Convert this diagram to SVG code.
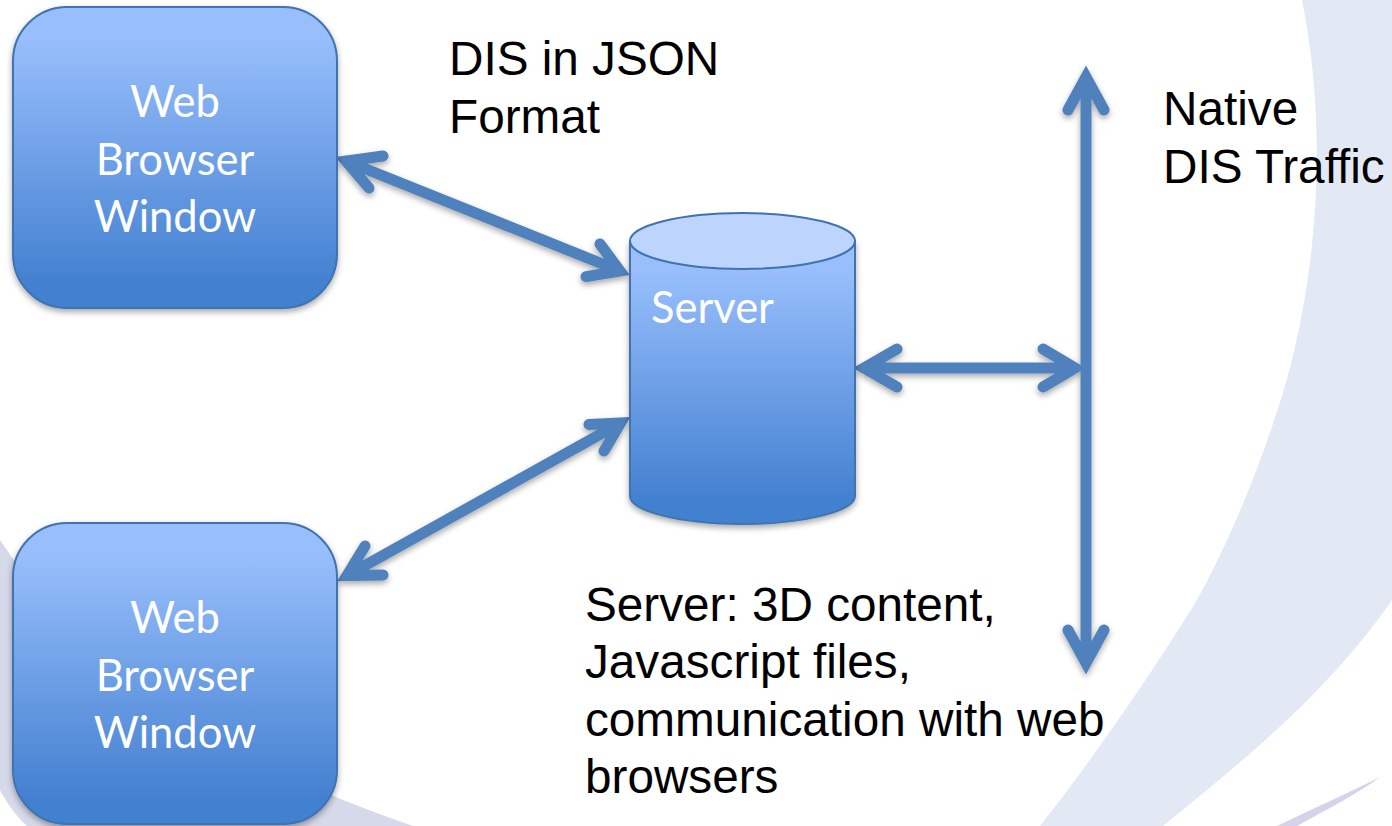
<svg xmlns="http://www.w3.org/2000/svg" width="1392" height="826" viewBox="0 0 1392 826">
<style>
.b{font-family:"Liberation Sans",Arial,sans-serif;font-size:47.7px;fill:#000}
.w{font-family:Lato,"Open Sans",sans-serif;font-size:43.500px;fill:#fff;text-anchor:middle}
.c{fill:none;stroke:#4f81bd;stroke-width:11;stroke-linecap:round;stroke-linejoin:miter}
.s{stroke:#3f73b0;stroke-width:2}
</style>
<defs>
<linearGradient id="g" x1="0" y1="0" x2="0" y2="1"><stop offset="0.1" stop-color="#98bffc"/><stop offset="0.92" stop-color="#4380d0"/></linearGradient>
<filter id="sh" x="-10%" y="-10%" width="120%" height="120%"><feGaussianBlur in="SourceAlpha" stdDeviation="3"/><feOffset dy="3"/><feComponentTransfer><feFuncA type="linear" slope="0.35"/></feComponentTransfer><feMerge><feMergeNode/><feMergeNode in="SourceGraphic"/></feMerge></filter>
</defs>
<rect width="1392" height="826" fill="#fff"/>
<g id="background">
<path d="M1302 0C1322 100 1325 230 1290 368C1265 460 1225 550 1197 600C1160 660 1100 750 1040 826L1163 826C1250 755 1330 690 1392 600L1392 0Z" fill="#e2e9f5"/>
<path d="M0 540C100 690 250 770 413 826L27 826C15 815 5 800 0 790Z" fill="#d6d9ea"/>
<path d="M1380 777C1350 792 1310 810 1277 826L1297 826C1330 808 1360 792 1380 777Z" fill="#d6d2ea"/>
</g>
<g id="connectors" filter="url(#sh)">
<path class="c" d="M346 161L620 271M383 156L346 161L369 188M586 276.600L620 271L600 244"/>
<path class="c" d="M347 575.500L620.500 423M365 546L347 575.500L383 575M589 424.500L620.500 423L604 451"/>
<path class="c" d="M864 368H1075M897 349L864 368L897 387M1043 349L1075 368L1043 387"/>
<path class="c" d="M1086 77V663M1068 110L1086 77L1104 110M1068 630L1086 663L1104 630"/>
</g>
<g id="browser-top">
<rect class="s" x="13" y="7" width="324" height="301" rx="54" fill="url(#g)" filter="url(#sh)"/>
<text class="w" x="175" y="117">Web</text><text class="w" x="175" y="175">Browser</text><text class="w" x="175" y="232">Window</text>
</g>
<g id="browser-bottom">
<rect class="s" x="13" y="523" width="324" height="301" rx="54" fill="url(#g)" filter="url(#sh)"/>
<text class="w" x="175" y="633">Web</text><text class="w" x="175" y="691">Browser</text><text class="w" x="175" y="748">Window</text>
</g>
<g id="server">
<path class="s" d="M630 241V496C630 511 680 524 742 524C805 524 855 511 855 496V241Z" fill="url(#g)" filter="url(#sh)"/>
<ellipse class="s" cx="742.500" cy="241" rx="112.500" ry="28" fill="#bdd5fd"/>
<text class="w" x="712.500" y="323">Server</text>
</g>
<g id="labels">
<text class="b" x="449" y="75">DIS in JSON</text><text class="b" x="449" y="133">Format</text>
<text class="b" x="1163" y="125">Native</text><text class="b" x="1163" y="183">DIS Traffic</text>
<text class="b" x="585" y="621">Server: 3D content,</text><text class="b" x="585" y="678">Javascript files,</text><text class="b" x="585" y="736">communication with web</text><text class="b" x="585" y="793">browsers</text>
</g>
</svg>
